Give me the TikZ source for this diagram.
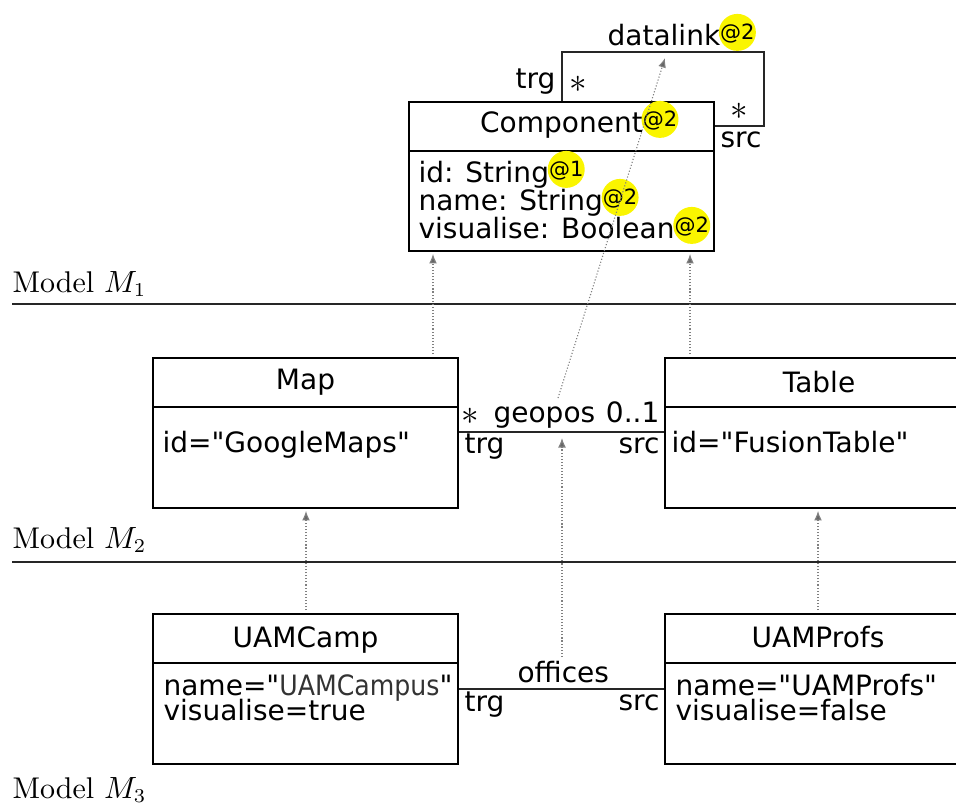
\documentclass[tikz,border=0pt]{standalone}
\usepackage{fontspec}
\usetikzlibrary{fit,arrows.meta}
\newfontfamily\dvfont{DejaVu Sans}
\definecolor{hlyellow}{RGB}{250,245,0}
\newcommand\vat[1]{\setbox0=\hbox{\fontsize{7.5}{8}\selectfont#1}\raisebox{1.8pt}{\rlap{\hbox to\wd0{\hss\tikz[overlay,baseline=0pt,x=1pt,y=1pt]\fill[hlyellow](0,2.7) circle (6.6);\hss}}\box0}}
\newcommand\mstar{\scalebox{1.25}{$\ast$}}
\tikzset{
  umlbox/.style={draw, line width=0.9pt, inner sep=0pt},
  divider/.style={line width=0.8pt},
  txt/.style={font=\dvfont\fontsize{10}{12}\selectfont, inner sep=0pt},
  modellbl/.style={font=\fontsize{10.7}{13}\selectfont, inner sep=0pt, anchor=base west},
  modelline/.style={line width=0.75pt, draw=black!85},
  assoc/.style={line width=0.7pt, draw=black!85},
  dep/.style={draw=black!50, line width=0.4pt, dash pattern=on 0.4pt off 0.7pt,
    -{Latex[length=3.4pt,width=2.8pt,fill=black!60]}}
}
\begin{document}
\begin{tikzpicture}[x=0.357pt,y=-0.357pt]
\useasboundingbox (0,0) rectangle (956,809);

% ---------- Model M1 ----------
\node[umlbox, fit={(409,102) (714,251)}] (comp) {};
\draw[divider] (409,151) -- (714,151);
\node[txt, anchor=base] (compname) at (561.5,132) {Component\rlap{\vat{@2}}};
\node[txt, anchor=base west] (a1) at (418,182) {id: String\vat{@1}};
\node[txt, anchor=base west] (a2) at (418,210) {name: String\vat{@2}};
\node[txt, anchor=base west] (a3) at (418,238) {visualise: Boolean\vat{@2}};

% datalink self loop
\coordinate (dl1) at (562,52);
\coordinate (dl2) at (764,52);
\coordinate (dl3) at (764,126);
\coordinate (dlmid) at (665,58);
\draw[assoc] (comp.north -| dl1) -- (dl1) -- (dl2) -- (dl3) -- (comp.east |- dl3);
\node[txt, anchor=base west] (dlname) at (607,45) {datalink\vat{@2}};
\node[txt, anchor=base east] (dltrg) at (556,88) {trg};
\node[txt, anchor=base] (dlstar1) at (578,92) {\mstar};
\node[txt, anchor=base] (dlstar2) at (739,119) {\mstar};
\node[txt, anchor=base west] (dlsrc) at (720,147) {src};

\node[modellbl] (m1) at (12,292) {Model $M_1$};
\coordinate (l1a) at (12,304);
\coordinate (l1b) at (960,304);
\draw[modelline] (l1a) -- (l1b);

% ---------- Model M2 ----------
\node[umlbox, fit={(153,358) (458,508)}] (map) {};
\draw[divider] (153,407) -- (458,407);
\node[txt, anchor=base] (mapname) at (305.5,389) {Map};
\node[txt, anchor=base west] (mapattr) at (162,452) {id="GoogleMaps"};

\node[umlbox, fit={(665,358) (972,508)}] (table) {};
\draw[divider] (665,407) -- (972,407);
\node[txt, anchor=base] (tablename) at (819,392) {Table};
\node[txt, anchor=base west] (tableattr) at (671,452) {id="FusionTable"};

\coordinate (geoy) at (0,432);
\coordinate (geomid) at (558,398);
\coordinate (geobot) at (562,438);
\draw[assoc] (map.east |- geoy) -- (table.west |- geoy);
\node[txt, anchor=base] (geostar) at (470,424) {\mstar};
\node[txt, anchor=base west] (geoname) at (493,422) {geopos};
\node[txt, anchor=base east] (geomult) at (660,422) {0..1};
\node[txt, anchor=base west] (geotrg) at (464,453) {trg};
\node[txt, anchor=base east] (geosrc) at (660,453) {src};

\node[modellbl] (m2) at (12,548) {Model $M_2$};
\coordinate (l2a) at (12,562);
\coordinate (l2b) at (960,562);
\draw[modelline] (l2a) -- (l2b);

% ---------- Model M3 ----------
\node[umlbox, fit={(153,614) (458,764)}] (camp) {};
\draw[divider] (153,663) -- (458,663);
\node[txt, anchor=base] (campname) at (305.5,647) {UAMCamp};
\node[txt, anchor=base west] (campa1) at (163,695) {name="\scalebox{0.9}[1]{\color{black!80}UAMCampus}"};
\node[txt, anchor=base west] (campa2) at (163,720) {visualise=true};

\node[umlbox, fit={(665,614) (972,764)}] (profs) {};
\draw[divider] (665,663) -- (972,663);
\node[txt, anchor=base] (profsname) at (818,647) {UAMProfs};
\node[txt, anchor=base west] (profsa1) at (675,695) {name="UAMProfs"};
\node[txt, anchor=base west] (profsa2) at (675,720) {visualise=false};

\coordinate (offy) at (0,689);
\coordinate (offtop) at (562,657);
\draw[assoc] (camp.east |- offy) -- (profs.west |- offy);
\node[txt, anchor=base west] (offname) at (517,682) {offices};
\node[txt, anchor=base west] (offtrg) at (464,711) {trg};
\node[txt, anchor=base east] (offsrc) at (660,710) {src};

\node[modellbl] (m3) at (12,798) {Model $M_3$};

% ---------- typing (dotted) arrows ----------
\coordinate (xl) at (433,0);
\coordinate (xr) at (690,0);
\coordinate (xc) at (306,0);
\coordinate (xp) at (818,0);
\draw[dep] ([yshift=0.9pt]map.north -| xl) -- ([yshift=-0.6pt]comp.south -| xl);
\draw[dep] ([yshift=0.9pt]table.north -| xr) -- ([yshift=-0.6pt]comp.south -| xr);
\draw[dep] ([yshift=0.9pt]camp.north -| xc) -- ([yshift=-0.6pt]map.south -| xc);
\draw[dep] ([yshift=0.9pt]profs.north -| xp) -- ([yshift=-0.6pt]table.south -| xp);
\draw[dep] (geomid) -- (dlmid);
\draw[dep] (offtop) -- (geobot);
\end{tikzpicture}
\end{document}
